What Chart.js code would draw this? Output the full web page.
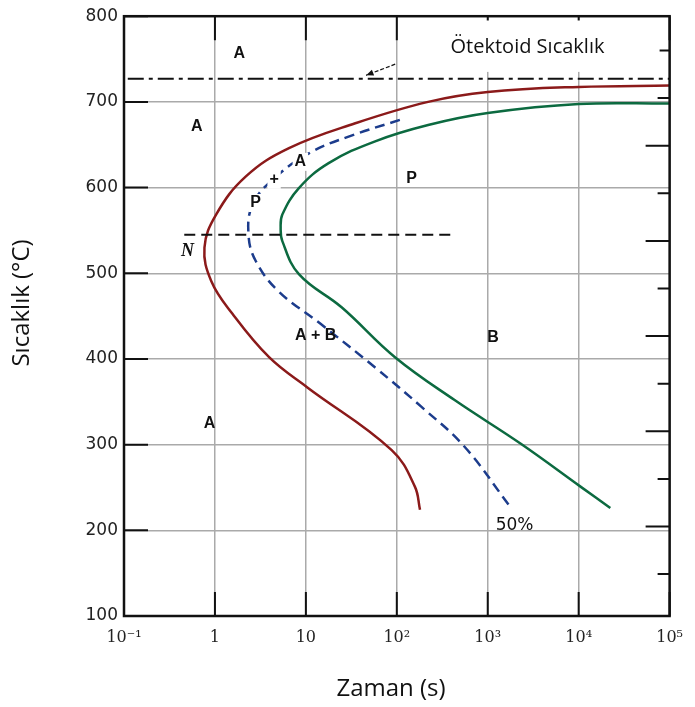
<!DOCTYPE html>
<html>
<head>
<meta charset="utf-8">
<script src="https://cdn.jsdelivr.net/npm/chart.js@4.4.1/dist/chart.umd.min.js"></script>
<style>
  html, body { margin: 0; padding: 0; background: #fff; }
  canvas { display: block; }
</style>
</head>
<body>
<canvas id="tttChart" width="695" height="707"></canvas>
<script>
// axis ticks
const timeTicks = [0.1, 1, 10, 100, 1000, 10000, 100000];
const timeTickLabels = ["10⁻¹", "1", "10", "10²", "10³", "10⁴", "10⁵"];
const tempTicks = [100, 200, 300, 400, 500, 600, 700, 800];
const fahrenheitTicks = [300, 400, 500, 600, 700, 800, 900, 1000, 1100, 1200, 1300, 1400];

// start of transformation (red)
const startTimes = [100000, 10000, 1000, 221, 34.9, 6.52, 2.19, 1.03, 0.767, 0.91, 1.55, 3.94, 10.3, 87.8, 158, 180];
const startTemps = [719, 717.5, 711.5, 700, 675, 646, 613, 568.5, 530, 491, 453, 402, 367, 293.6, 251, 224];

// 50% transformation (blue dashed)
const halfTimes = [108, 29.5, 10.8, 4.29, 2.59, 2.34, 2.82, 5.0, 14.5, 57.8, 187, 556, 1750];
const halfTemps = [679, 659.5, 640, 609, 580, 545, 514, 479, 441, 390, 344, 297.5, 228];

// end of transformation (green)
const finishTimes = [100000, 10000, 1000, 221, 57.8, 17.8, 8.38, 5.51, 5.28, 5.51, 8.38, 24.9, 95.5, 432, 2311, 10470, 22280];
const finishTemps = [698, 697.5, 687, 673, 654, 628.5, 599.4, 568.5, 553, 537.5, 499, 460, 402, 352, 301, 251, 226];

// eutectoid temperature line and the 545 °C line
const eutectoidTimes = [0.11, 100000];
const eutectoidTemps = [727, 727];
const noseLineTimes = [0.46, 400];
const noseLineTemps = [545, 545];

// region labels
const labelTexts = ["A", "A", "A", "+", "P", "P", "A + B", "B", "A"];
const labelTimes = [1.85, 0.63, 8.7, 4.47, 2.8, 145, 12.8, 1140, 0.87];
const labelTemps = [756, 671, 630, 609, 582, 611, 427, 425, 325];
const labelOnCurve = [false, false, true, true, true, false, false, false, false];

function toPoints(xs, ys) {
    return xs.map((x, i) => ({ x: x, y: ys[i] }));
}

const frame = {
    id: "frame",
    beforeDatasetsDraw(chart) {
        const { ctx, chartArea: a, scales: { x, y } } = chart;
        ctx.save();
        ctx.strokeStyle = "#111";
        ctx.lineWidth = 2;
        ctx.beginPath();
        timeTicks.forEach(t => {
            const px = x.getPixelForValue(t);
            ctx.moveTo(px, a.bottom); ctx.lineTo(px, a.bottom - 24);
            ctx.moveTo(px, a.top); ctx.lineTo(px, a.top + 24);
        });
        tempTicks.forEach(T => {
            const py = y.getPixelForValue(T);
            ctx.moveTo(a.left, py); ctx.lineTo(a.left + 24, py);
        });
        fahrenheitTicks.forEach(F => {
            const py = y.getPixelForValue((F - 32) * 5 / 9);
            const len = F % 200 === 0 ? 24 : 12;
            ctx.moveTo(a.right, py); ctx.lineTo(a.right - len, py);
        });
        ctx.stroke();

        // white box behind the eutectoid label
        const bx1 = x.getPixelForValue(106), bx2 = x.getPixelForValue(77600);
        const by1 = y.getPixelForValue(795), by2 = y.getPixelForValue(735);
        ctx.fillStyle = "#fff";
        ctx.fillRect(bx1, by1, bx2 - bx1, by2 - by1);
        ctx.restore();
    },
    afterDatasetsDraw(chart) {
        const { ctx, chartArea: a, scales: { x, y } } = chart;
        ctx.save();
        ctx.strokeStyle = "#111";
        ctx.lineWidth = 2.5;
        ctx.strokeRect(a.left, a.top, a.right - a.left, a.bottom - a.top);

        // arrow to the eutectoid line
        const x1 = x.getPixelForValue(96), y1 = y.getPixelForValue(744);
        const x2 = x.getPixelForValue(46), y2 = y.getPixelForValue(731);
        ctx.lineWidth = 1.2;
        ctx.setLineDash([4, 2]);
        ctx.beginPath();
        ctx.moveTo(x1, y1); ctx.lineTo(x2, y2);
        ctx.stroke();
        ctx.setLineDash([]);
        const ang = Math.atan2(y2 - y1, x2 - x1);
        ctx.fillStyle = "#111";
        ctx.beginPath();
        ctx.moveTo(x2, y2);
        ctx.lineTo(x2 - 8 * Math.cos(ang - 0.4), y2 - 8 * Math.sin(ang - 0.4));
        ctx.lineTo(x2 - 8 * Math.cos(ang + 0.4), y2 - 8 * Math.sin(ang + 0.4));
        ctx.closePath();
        ctx.fill();

        // region labels
        ctx.textAlign = "center";
        ctx.textBaseline = "middle";
        ctx.font = "bold 16px 'Liberation Sans', Arial, sans-serif";
        labelTexts.forEach((txt, i) => {
            const px = x.getPixelForValue(labelTimes[i]);
            const py = y.getPixelForValue(labelTemps[i]);
            if (labelOnCurve[i]) {
                const w = ctx.measureText(txt).width + 4;
                ctx.fillStyle = "#fff";
                ctx.fillRect(px - w / 2, py - 9, w, 18);
            }
            ctx.fillStyle = "#111";
            ctx.fillText(txt, px, py);
        });

        ctx.font = "italic bold 18px 'Liberation Serif', serif";
        ctx.fillText("N", x.getPixelForValue(0.5), y.getPixelForValue(526));

        ctx.font = "17px 'DejaVu Sans', sans-serif";
        ctx.fillText("50%", x.getPixelForValue(1970), y.getPixelForValue(206));

        ctx.font = "20px 'Open Sans', sans-serif";
        ctx.fillText("Ötektoid Sıcaklık", x.getPixelForValue(2736), y.getPixelForValue(764));

        // axis titles
        ctx.font = "24px 'Open Sans', sans-serif";
        ctx.fillText("Zaman (s)", 391, 689);
        ctx.translate(22, 303);
        ctx.rotate(-Math.PI / 2);
        ctx.fillText("Sıcaklık (°C)", 0, 0);
        ctx.restore();
    }
};

new Chart(document.getElementById("tttChart"), {
    type: "line",
    data: {
        datasets: [
            {
                data: toPoints(eutectoidTimes, eutectoidTemps),
                borderColor: "#111",
                borderWidth: 2,
                borderDash: [16, 5, 4, 5],
                pointRadius: 0
            },
            {
                data: toPoints(noseLineTimes, noseLineTemps),
                borderColor: "#111",
                borderWidth: 2,
                borderDash: [11, 6],
                pointRadius: 0
            },
            {
                data: toPoints(startTimes, startTemps),
                borderColor: "#8b1a1a",
                borderWidth: 2.5,
                tension: 0.4,
                pointRadius: 0
            },
            {
                data: toPoints(halfTimes, halfTemps),
                borderColor: "#1c3c8c",
                borderWidth: 2.5,
                borderDash: [10, 6],
                tension: 0.4,
                pointRadius: 0
            },
            {
                data: toPoints(finishTimes, finishTemps),
                borderColor: "#0c6a40",
                borderWidth: 2.5,
                tension: 0.4,
                pointRadius: 0
            }
        ]
    },
    options: {
        responsive: false,
        animation: false,
        layout: { padding: { top: 14, right: 22, bottom: 0, left: 0 } },
        plugins: { legend: { display: false }, tooltip: { enabled: false } },
        scales: {
            x: {
                type: "logarithmic",
                min: 0.1,
                max: 100000,
                afterBuildTicks: scale => { scale.ticks = timeTicks.map(v => ({ value: v })); },
                afterFit: scale => { scale.height = 91; },
                ticks: {
                    autoSkip: false,
                    maxRotation: 0,
                    padding: 12,
                    color: "#222",
                    font: { family: "'DejaVu Serif', serif", size: 16 },
                    callback: (v) => timeTickLabels[timeTicks.indexOf(v)] ?? ""
                },
                grid: { color: "#aaa", lineWidth: 1.5, drawTicks: false },
                border: { display: false }
            },
            y: {
                type: "linear",
                min: 100,
                max: 800,
                afterBuildTicks: scale => { scale.ticks = tempTicks.map(v => ({ value: v })); },
                afterFit: scale => { scale.width = 124; },
                ticks: {
                    padding: 6,
                    color: "#222",
                    font: { family: "'DejaVu Sans', sans-serif", size: 17 }
                },
                grid: { color: "#aaa", lineWidth: 1.5, drawTicks: false },
                border: { display: false }
            }
        }
    },
    plugins: [frame]
});
</script>
</body>
</html>
